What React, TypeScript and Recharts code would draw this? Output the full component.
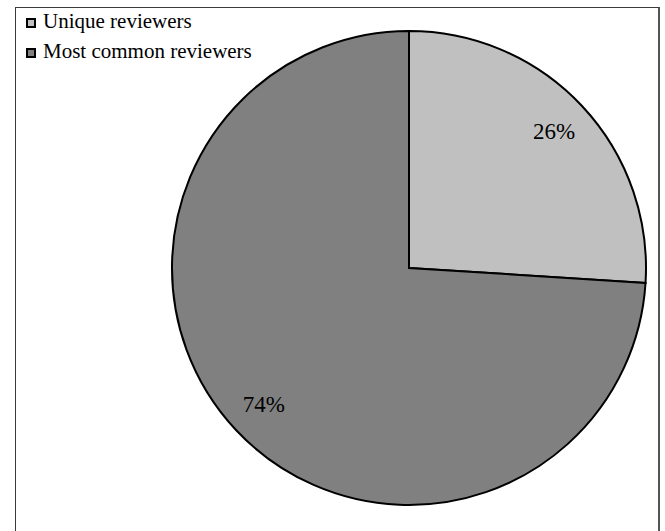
import React from 'react';
import { PieChart, Pie, Cell, Legend } from 'recharts';

const categories = ['Unique reviewers', 'Most common reviewers'];
const shares = [26, 74];
const sliceColors = ['#c0c0c0', '#808080'];

const data = categories.map((name, i) => ({ name, value: shares[i] }));

const RADIAN = Math.PI / 180;
const serif = "'Liberation Serif', 'Times New Roman', serif";

const renderLabel = (props: any) => {
  const { cx, cy, midAngle, outerRadius, percent } = props;
  const r = outerRadius * 0.84;
  const x = cx + r * Math.cos(-midAngle * RADIAN);
  const y = cy + r * Math.sin(-midAngle * RADIAN);
  return (
    <text
      x={x}
      y={y}
      fill="#000"
      textAnchor="middle"
      dominantBaseline="central"
      fontFamily={serif}
      fontSize={23}
    >
      {`${Math.round(percent * 100)}%`}
    </text>
  );
};

const LegendContent = () => (
  <div style={{ fontFamily: serif, fontSize: 21, color: '#000' }}>
    {categories.map((name, i) => (
      <div key={name} style={{ display: 'flex', alignItems: 'center', height: 30, whiteSpace: 'nowrap' }}>
        <span
          style={{
            display: 'inline-block',
            width: 6,
            height: 6,
            border: '2px solid #000',
            background: sliceColors[i],
            marginRight: 7,
            position: 'relative',
            top: 2,
          }}
        />
        <span>{name}</span>
      </div>
    ))}
  </div>
);

export default function App() {
  return (
    <div style={{ position: 'absolute', left: 0, top: 0, width: 665, height: 531, overflow: 'hidden', background: '#fff' }}>
      <div
        style={{
          position: 'absolute',
          left: 15,
          top: 7,
          width: 642,
          height: 560,
          borderTop: '1px solid #3a3a3a',
          borderLeft: '1px solid #3a3a3a',
          borderRight: '2px solid #555',
        }}
      />
      <div style={{ position: 'absolute', left: 0, top: 0 }}>
        <PieChart width={665} height={531} margin={{ top: 0, right: 0, bottom: 0, left: 0 }}>
          <Legend
            layout="horizontal"
            align="center"
            verticalAlign="middle"
            content={<LegendContent />}
            wrapperStyle={{ left: 26, top: 6, width: 300, height: 60 }}
          />
          <Pie
            data={data}
            dataKey="value"
            nameKey="name"
            cx={409}
            cy={268}
            outerRadius={237}
            startAngle={90}
            endAngle={-270}
            stroke="#000"
            strokeWidth={2}
            label={renderLabel}
            labelLine={false}
            isAnimationActive={false}
          >
            {data.map((d, i) => (
              <Cell key={d.name} fill={sliceColors[i]} />
            ))}
          </Pie>
        </PieChart>
      </div>
    </div>
  );
}
